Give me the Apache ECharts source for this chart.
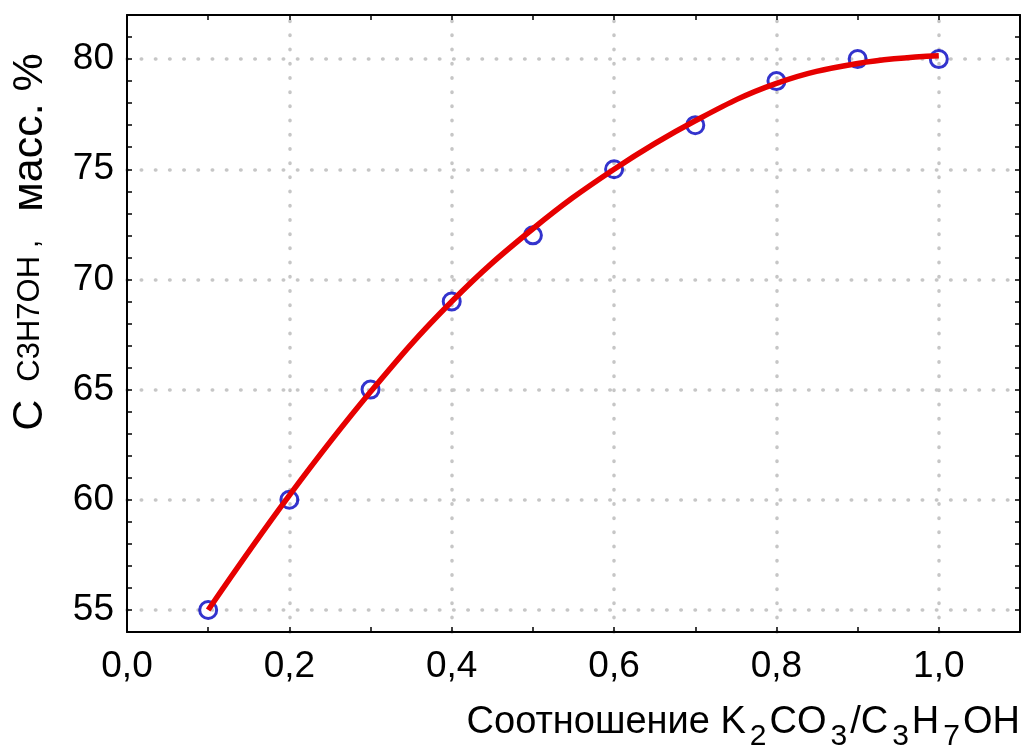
<!DOCTYPE html>
<html>
<head>
<meta charset="utf-8">
<script src="https://cdn.jsdelivr.net/npm/echarts@6/dist/echarts.min.js"></script>
<style>html,body{margin:0;padding:0;background:#fff;}#c{width:1026px;height:747px;}</style>
</head>
<body>
<div id="c"></div>
<script>
// Data
const xPoints = [0.1, 0.2, 0.3, 0.4, 0.5, 0.6, 0.7, 0.8, 0.9, 1.0];
const yPoints = [55, 60, 65, 69, 72, 75, 77, 79, 80, 80];
const curveX = [0.1, 0.2, 0.3, 0.4, 0.5, 0.6, 0.7, 0.8, 0.9, 1.0];
const curveY = [55.0, 60.2, 64.9, 69.0, 72.3, 75.0, 77.2, 78.9, 79.8, 80.15];
const xGrid = [0.2, 0.4, 0.6, 0.8, 1.0];
const yGrid = [55, 60, 65, 70, 75, 80];
const xRange = [0, 1.1];
const yRange = [54, 82];

const FONT = "'Liberation Sans', Arial, sans-serif";
const chart = echarts.init(document.getElementById('c'), null, {renderer: 'canvas'});

const axisLine = {show: true, onZero: false, lineStyle: {color: '#000', width: 2}};
const axisTick = {show: true, inside: true, length: 5, lineStyle: {color: '#000', width: 1.5}};

const dotted = {type: [0.5, 13.7], width: 3.5, cap: 'round', color: '#c6c6c6'};

const gridMarks = [];
xGrid.forEach(v => gridMarks.push({xAxis: v}));
yGrid.forEach(v => gridMarks.push({yAxis: v}));

chart.setOption({
  animation: false,
  backgroundColor: '#fff',
  grid: {left: 127, right: 6, top: 15, bottom: 115, containLabel: false},
  xAxis: [{
    type: 'value', min: xRange[0], max: xRange[1], interval: 0.1,
    axisLine, axisTick, splitLine: {show: false},
    axisLabel: {
      fontSize: 37, color: '#000', fontFamily: FONT, margin: 16,
      formatter: v => (Math.round(v * 10) % 2 === 0) ? v.toFixed(1).replace('.', ',') : ''
    }
  }, {
    type: 'value', position: 'top', min: xRange[0], max: xRange[1], interval: 0.1,
    axisLine, axisTick, splitLine: {show: false}, axisLabel: {show: false}
  }],
  yAxis: [{
    type: 'value', min: yRange[0], max: yRange[1], interval: 1,
    axisLine, axisTick, splitLine: {show: false},
    axisLabel: {
      fontSize: 37, color: '#000', fontFamily: FONT, margin: 13,
      formatter: v => (Math.round(v) % 5 === 0) ? String(Math.round(v)) : ''
    }
  }, {
    type: 'value', position: 'right', min: yRange[0], max: yRange[1], interval: 1,
    axisLine, axisTick, splitLine: {show: false}, axisLabel: {show: false}
  }],
  series: [{
    type: 'line', data: [], z: 0, silent: true,
    markLine: {
      z: 0, silent: true, symbol: ['none', 'none'], label: {show: false},
      lineStyle: dotted, emphasis: {disabled: true}, data: gridMarks
    }
  }, {
    type: 'scatter', z: 2,
    data: xPoints.map((x, i) => [x, yPoints[i]]),
    symbol: 'circle', symbolSize: 17,
    itemStyle: {color: 'rgba(255,255,255,0)', borderColor: '#0000c0', borderWidth: 3}
  }, {
    type: 'line', z: 3, smooth: 0.4, symbol: 'none',
    data: curveX.map((x, i) => [x, curveY[i]]),
    lineStyle: {color: '#e60000', width: 5.5}
  }],
  graphic: [{
    type: 'text', x: 30, y: 242, rotation: Math.PI / 2,
    style: {
      text: '{a|C}{g|}{b|C3H7OH}{c| ,}{g2|}{a|масс. %}',
      align: 'center', verticalAlign: 'middle', fill: '#000',
      fontFamily: FONT,
      rich: {
        a: {fontSize: 43, fontFamily: FONT, fill: '#000'},
        b: {fontSize: 31, fontFamily: FONT, fill: '#000'},
        c: {fontSize: 29, fontFamily: FONT, fill: '#000'},
        g: {width: 18},
        g2: {width: 28}
      }
    }
  }, {
    type: 'text', x: 1020, y: 704,
    style: {
      text: '{m|Соотношение K}{s|2}{m|CO}{s|3}{m|/C}{s|3}{m|H}{s|7}{m|OH}',
      align: 'right', verticalAlign: 'top', fill: '#000',
      fontFamily: FONT,
      rich: {
        m: {fontSize: 38, fontFamily: FONT, fill: '#000', lineHeight: 40, verticalAlign: 'top'},
        s: {fontSize: 30, fontFamily: FONT, fill: '#000', lineHeight: 48, verticalAlign: 'bottom', padding: [0, 3, 0, 4]}
      }
    }
  }]
});
</script>
</body>
</html>
